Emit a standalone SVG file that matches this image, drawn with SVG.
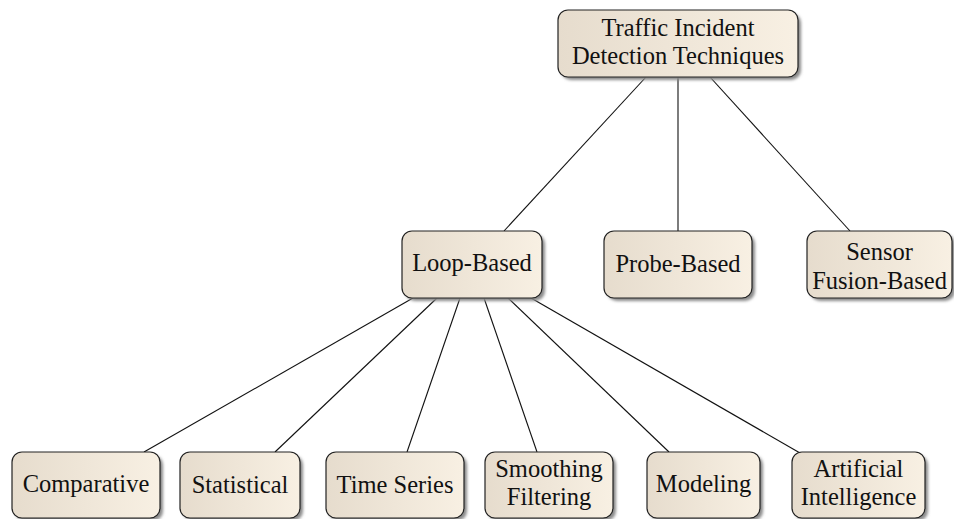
<svg xmlns="http://www.w3.org/2000/svg" width="954" height="519" viewBox="0 0 954 519">
<defs>
<linearGradient id="fill" x1="0" y1="0" x2="1" y2="0">
<stop offset="0" stop-color="#e6dccd"/>
<stop offset="1" stop-color="#f8f0e3"/>
</linearGradient>
<filter id="blur" x="-10%" y="-10%" width="120%" height="130%">
<feGaussianBlur stdDeviation="1.5"/>
</filter>
</defs>
<style>
.box{fill:url(#fill);stroke:#222;stroke-width:1.2}
.sh{fill:#8a8a8a;filter:url(#blur)}
.edge{stroke:#111;stroke-width:1.1;fill:none}
</style>
<g id="connectors">
<line class="edge" x1="646" y1="77" x2="504" y2="231"/>
<line class="edge" x1="678" y1="77" x2="678" y2="231"/>
<line class="edge" x1="710" y1="77" x2="850" y2="231"/>
<line class="edge" x1="413" y1="298" x2="144" y2="452"/>
<line class="edge" x1="437" y1="298" x2="275" y2="452"/>
<line class="edge" x1="460" y1="298" x2="407" y2="452"/>
<line class="edge" x1="484" y1="298" x2="537" y2="452"/>
<line class="edge" x1="508" y1="298" x2="669" y2="452"/>
<line class="edge" x1="531" y1="298" x2="800" y2="453"/>
</g>
<g id="root">
<rect class="sh" x="561" y="13" width="240" height="67" rx="10"/>
<rect class="box" x="558" y="10" width="240" height="67" rx="10"/>
<text x="678" y="36" style="font-family:'Liberation Serif',serif !important;font-size:24.5px;text-anchor:middle;fill:#111">Traffic Incident</text>
<text x="678" y="64" style="font-family:'Liberation Serif',serif !important;font-size:24.5px;text-anchor:middle;fill:#111">Detection Techniques</text>
</g>
<g id="loop">
<rect class="sh" x="405" y="234" width="140" height="67" rx="10"/>
<rect class="box" x="402" y="231" width="140" height="67" rx="10"/>
<text x="472" y="271" style="font-family:'Liberation Serif',serif !important;font-size:24.5px;text-anchor:middle;fill:#111">Loop-Based</text>
</g>
<g id="probe">
<rect class="sh" x="607" y="234" width="148" height="67" rx="10"/>
<rect class="box" x="604" y="231" width="148" height="67" rx="10"/>
<text x="678" y="272" style="font-family:'Liberation Serif',serif !important;font-size:24.5px;text-anchor:middle;fill:#111">Probe-Based</text>
</g>
<g id="sensor">
<rect class="sh" x="810" y="234" width="145" height="67" rx="10"/>
<rect class="box" x="807" y="231" width="145" height="67" rx="10"/>
<text x="879.5" y="260" style="font-family:'Liberation Serif',serif !important;font-size:24.5px;text-anchor:middle;fill:#111">Sensor</text>
<text x="879.5" y="289" style="font-family:'Liberation Serif',serif !important;font-size:24.5px;text-anchor:middle;fill:#111">Fusion-Based</text>
</g>
<g id="comparative">
<rect class="sh" x="15" y="455" width="148" height="66" rx="10"/>
<rect class="box" x="12" y="452" width="148" height="66" rx="10"/>
<text x="86" y="492" style="font-family:'Liberation Serif',serif !important;font-size:24.5px;text-anchor:middle;fill:#111">Comparative</text>
</g>
<g id="statistical">
<rect class="sh" x="183" y="455" width="120" height="66" rx="10"/>
<rect class="box" x="180" y="452" width="120" height="66" rx="10"/>
<text x="240" y="493" style="font-family:'Liberation Serif',serif !important;font-size:24.5px;text-anchor:middle;fill:#111">Statistical</text>
</g>
<g id="timeseries">
<rect class="sh" x="329" y="455" width="138" height="66" rx="10"/>
<rect class="box" x="326" y="452" width="138" height="66" rx="10"/>
<text x="395" y="493" style="font-family:'Liberation Serif',serif !important;font-size:24.5px;text-anchor:middle;fill:#111">Time Series</text>
</g>
<g id="smoothing">
<rect class="sh" x="488" y="455" width="128" height="66" rx="10"/>
<rect class="box" x="485" y="452" width="128" height="66" rx="10"/>
<text x="549" y="477" style="font-family:'Liberation Serif',serif !important;font-size:24.5px;text-anchor:middle;fill:#111">Smoothing</text>
<text x="549" y="505" style="font-family:'Liberation Serif',serif !important;font-size:24.5px;text-anchor:middle;fill:#111">Filtering</text>
</g>
<g id="modeling">
<rect class="sh" x="650" y="455" width="113" height="66" rx="10"/>
<rect class="box" x="647" y="452" width="113" height="66" rx="10"/>
<text x="703.5" y="492" style="font-family:'Liberation Serif',serif !important;font-size:24.5px;text-anchor:middle;fill:#111">Modeling</text>
</g>
<g id="ai">
<rect class="sh" x="795" y="455" width="133" height="66" rx="10"/>
<rect class="box" x="792" y="452" width="133" height="66" rx="10"/>
<text x="858.5" y="477" style="font-family:'Liberation Serif',serif !important;font-size:24.5px;text-anchor:middle;fill:#111">Artificial</text>
<text x="858.5" y="505" style="font-family:'Liberation Serif',serif !important;font-size:24.5px;text-anchor:middle;fill:#111">Intelligence</text>
</g>
</svg>
